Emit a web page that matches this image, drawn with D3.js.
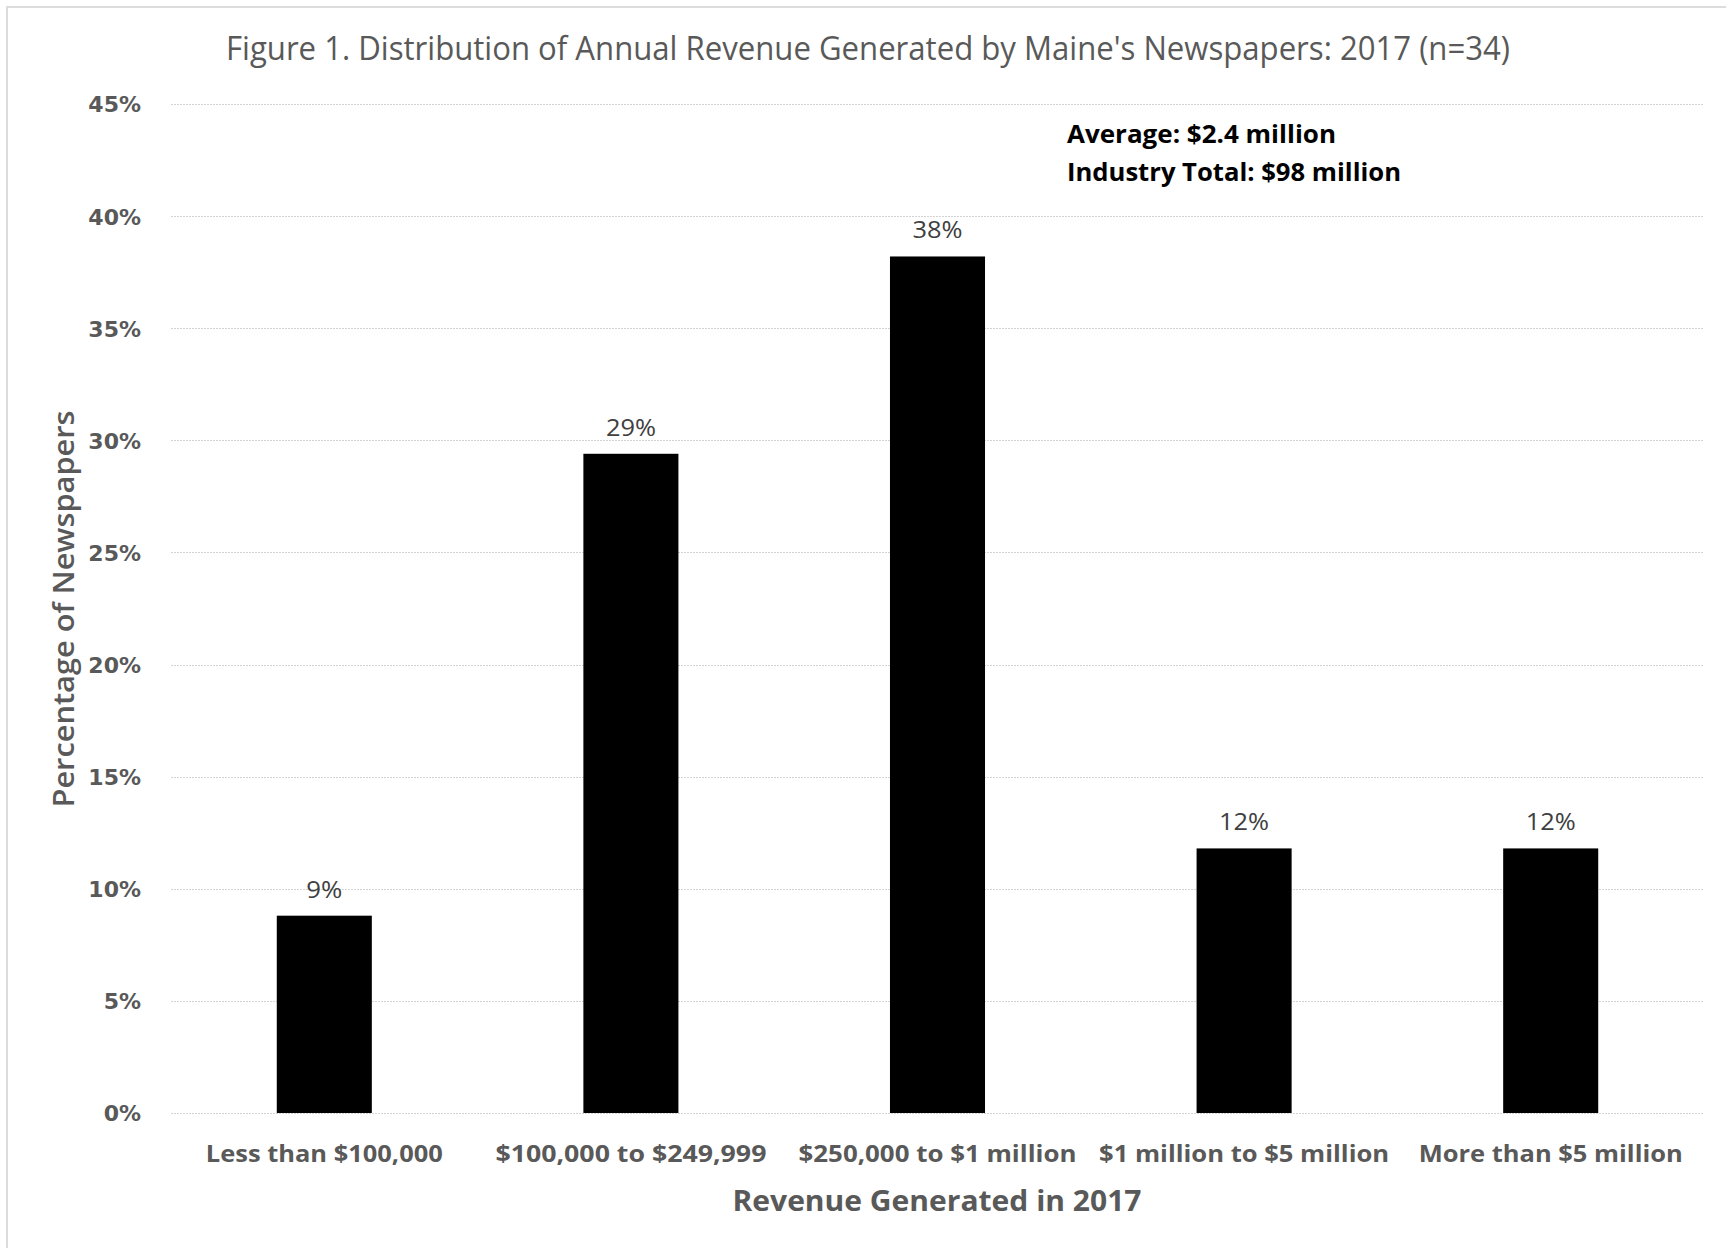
<!DOCTYPE html>
<html>
<head>
<meta charset="utf-8">
<script src="https://cdn.jsdelivr.net/npm/d3@7"></script>
<style>
  html, body { margin: 0; padding: 0; background: #fff; }
  svg { display: block; }
</style>
</head>
<body>
<script>
// Revenue brackets and share of newspapers (n = 34)
const categories = [
  "Less than $100,000",
  "$100,000 to $249,999",
  "$250,000 to $1 million",
  "$1 million to $5 million",
  "More than $5 million"
];
const shares = [0.088, 0.294, 0.382, 0.118, 0.118];
const yTicks = [0, 0.05, 0.10, 0.15, 0.20, 0.25, 0.30, 0.35, 0.40, 0.45];
const titleText = "Figure 1. Distribution of Annual Revenue Generated by Maine's Newspapers: 2017 (n=34)";
const xTitle = "Revenue Generated in 2017";
const yTitle = "Percentage of Newspapers";
const notes = ["Average: $2.4 million", "Industry Total: $98 million"];

const W = 1726, H = 1248;
const plot = { left: 171, right: 1704, top: 104, bottom: 1113 };
const grey = "#595959";

const svg = d3.select("body").append("svg")
  .attr("width", W).attr("height", H);

// chart frame (top and left edges visible)
svg.append("path")
  .attr("d", `M7,${H} L7,7 L${W},7`)
  .attr("fill", "none")
  .attr("stroke", "#dcdcdc")
  .attr("stroke-width", 2);

const x = d3.scaleBand()
  .domain(categories)
  .range([plot.left, plot.right])
  .paddingInner(0.69)
  .paddingOuter(0.345);

const y = d3.scaleLinear()
  .domain([0, 0.45])
  .range([plot.bottom, plot.top]);

const pct = d3.format(".0%");

// fit a text element to a given width
function fit(sel, width) {
  sel.attr("textLength", width).attr("lengthAdjust", "spacingAndGlyphs");
}

// gridlines
svg.append("g")
  .selectAll("line")
  .data(yTicks)
  .join("line")
  .attr("x1", plot.left).attr("x2", plot.right)
  .attr("y1", d => Math.round(y(d)) + 0.5)
  .attr("y2", d => Math.round(y(d)) + 0.5)
  .attr("stroke", "#d3d3d3")
  .attr("stroke-width", 1.2)
  .attr("stroke-dasharray", "2,1");

// y axis labels
const yAxis = d3.axisLeft(y).tickValues(yTicks).tickFormat(pct).tickSize(0).tickPadding(0);
const yg = svg.append("g").attr("transform", `translate(141,0)`).call(yAxis);
yg.select(".domain").remove();
yg.selectAll("text")
  .attr("font-family", "DejaVu Sans")
  .attr("font-weight", "bold")
  .attr("font-size", 22)
  .attr("fill", grey)
  .attr("dy", "0.36em");

// x axis labels
const xAxis = d3.axisBottom(x).tickSize(0).tickPadding(0);
const xg = svg.append("g").attr("transform", `translate(0,${plot.bottom})`).call(xAxis);
xg.select(".domain").remove();
const xWidths = [237, 271, 278, 290, 264];
xg.selectAll("text")
  .attr("font-family", "Open Sans")
  .attr("font-weight", "bold")
  .attr("font-size", 23)
  .attr("fill", grey)
  .attr("y", 49)
  .attr("dy", 0)
  .each(function(d, i) { fit(d3.select(this), xWidths[i]); });

// bars
svg.append("g")
  .selectAll("rect")
  .data(shares)
  .join("rect")
  .attr("x", (d, i) => x(categories[i]))
  .attr("width", x.bandwidth())
  .attr("y", d => y(d))
  .attr("height", d => y(0) - y(d))
  .attr("fill", "#000");

// value labels
svg.append("g")
  .selectAll("text")
  .data(shares)
  .join("text")
  .attr("x", (d, i) => x(categories[i]) + x.bandwidth() / 2)
  .attr("y", d => y(d) - 18)
  .attr("text-anchor", "middle")
  .attr("font-family", "Open Sans")
  .attr("font-size", 23)
  .attr("fill", "#404040")
  .text(d => pct(d))
  .each(function(d) { fit(d3.select(this), pct(d).length > 2 ? 50 : 36); });

// title
svg.append("text")
  .attr("x", 868).attr("y", 60)
  .attr("text-anchor", "middle")
  .attr("font-family", "Open Sans")
  .attr("font-size", 33)
  .attr("fill", grey)
  .text(titleText)
  .call(fit, 1284);

// axis titles
svg.append("text")
  .attr("x", 937).attr("y", 1211)
  .attr("text-anchor", "middle")
  .attr("font-family", "Open Sans")
  .attr("font-weight", "bold")
  .attr("font-size", 29)
  .attr("fill", grey)
  .text(xTitle)
  .call(fit, 409);

svg.append("text")
  .attr("transform", "translate(74,609) rotate(-90)")
  .attr("text-anchor", "middle")
  .attr("font-family", "Open Sans")
  .attr("font-weight", 600)
  .attr("font-size", 28)
  .attr("fill", grey)
  .text(yTitle)
  .call(fit, 397);

// summary annotation
const noteWidths = [269, 334];
svg.append("g")
  .selectAll("text")
  .data(notes)
  .join("text")
  .attr("x", 1067)
  .attr("y", (d, i) => 143 + i * 38)
  .attr("font-family", "Open Sans")
  .attr("font-weight", "bold")
  .attr("font-size", 25)
  .attr("fill", "#000")
  .text(d => d)
  .each(function(d, i) { fit(d3.select(this), noteWidths[i]); });
</script>
</body>
</html>
